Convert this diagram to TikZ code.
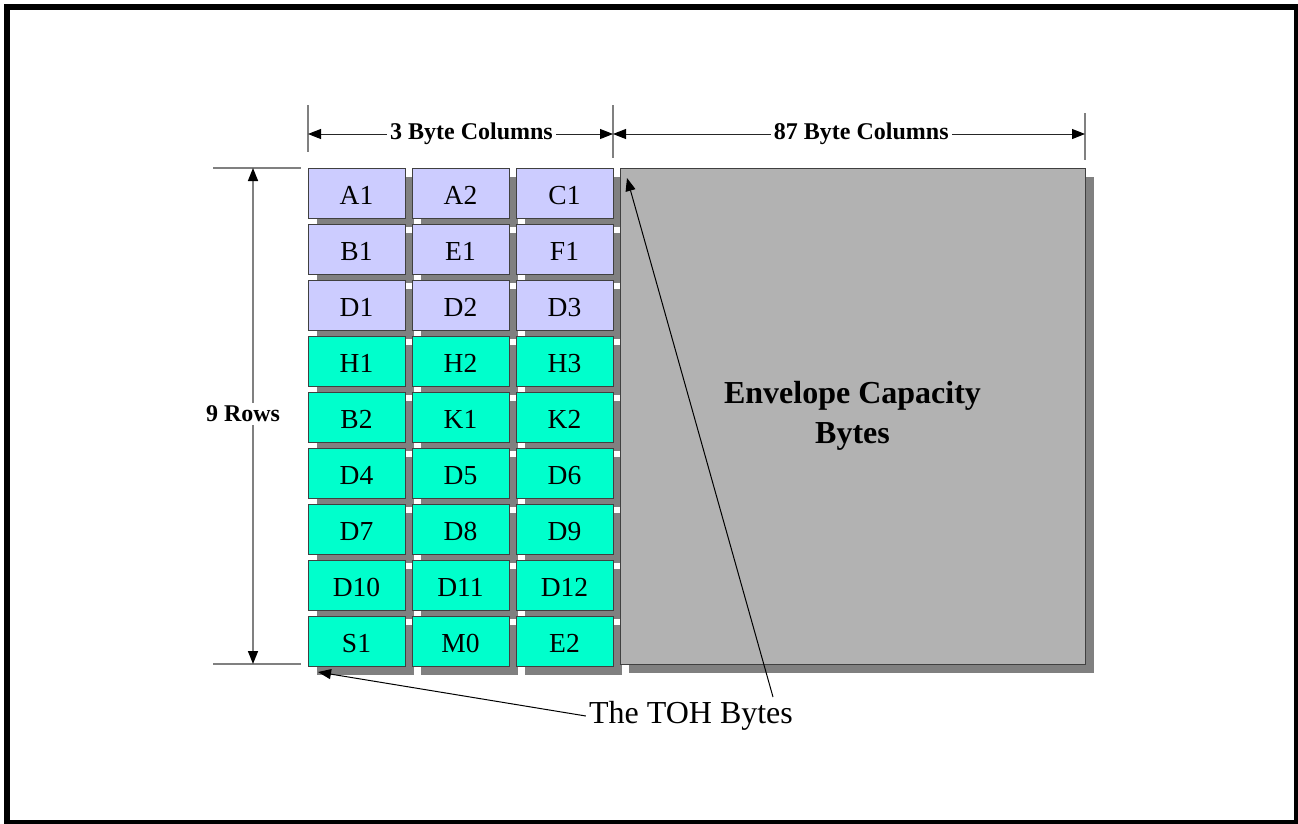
\documentclass[tikz,border=0pt]{standalone}
\usepackage{fontspec}
\setmainfont{Liberation Serif}
\usepackage{xcolor}
\usetikzlibrary{arrows.meta,shadows}

\definecolor{sohblue}{RGB}{204,204,255}
\definecolor{lohcyan}{RGB}{0,255,204}
\definecolor{envgray}{RGB}{178,178,178}
\definecolor{shadegray}{RGB}{128,128,128}

\begin{document}
\begin{tikzpicture}[
      x=1pt, y=-1pt,
      >={Triangle[length=13pt, width=10pt, color=black]},
      cell/.style={draw=black!75, line width=0.8pt, minimum width=97pt,
        minimum height=50pt, inner sep=0pt, text height=22pt, text depth=0pt,
        font=\fontsize{27.5}{30}\selectfont,
      drop shadow={shadow xshift=9pt, shadow yshift=-9pt, fill=shadegray, opacity=1}},
      soh/.style={cell, fill=sohblue},
      loh/.style={cell, fill=lohcyan},
      envbox/.style={draw=black!75, line width=0.8pt, fill=envgray, minimum width=465pt,
        minimum height=496pt, inner sep=0pt, align=center,
        font=\fontsize{32}{40}\selectfont\bfseries,
      drop shadow={shadow xshift=9pt, shadow yshift=-9pt, fill=shadegray, opacity=1}},
      dimlbl/.style={font=\fontsize{24}{26}\selectfont\bfseries, fill=white, inner sep=3pt},
      tick/.style={draw=shadegray, line width=1.5pt},
      dimh/.style={<->, draw=black!85, line width=1pt},
      dimv/.style={<->, draw=shadegray, line width=1.5pt},
    pointer/.style={->, draw=black, line width=1pt}]

    % ---- page and frame ----
    \clip (0,0) rectangle (1298,823);
    \draw[line width=6pt] (7,7) rectangle (1297,823);

    % ---- TOH byte cells, 9 rows x 3 columns ----
    \foreach \r/\lst/\kind in {1/{A1,A2,C1}/soh, 2/{B1,E1,F1}/soh, 3/{D1,D2,D3}/soh,
      4/{H1,H2,H3}/loh, 5/{B2,K1,K2}/loh, 6/{D4,D5,D6}/loh,
      7/{D7,D8,D9}/loh, 8/{D10,D11,D12}/loh, 9/{S1,M0,E2}/loh}
    \foreach \lbl [count=\c] in \lst
    \node[\kind] (b-\r-\c) at ({252.5+104*\c},{137+56*\r}) {\lbl};

    % ---- envelope capacity ----
    \node[envbox] (env) at (852.5,416) {Envelope Capacity\\Bytes};

    % ---- column dimensions ----
    \draw[tick] (308,105) -- (308,152);
    \draw[tick] (613,105) -- (613,158);
    \draw[tick] (1085,113) -- (1085,160);
    \coordinate (c0) at (308,134);
    \coordinate (c1) at (613,134);
    \coordinate (c2) at (1085,134);
    \draw[dimh] (c0) -- (c1) node[dimlbl, pos=0.536] {3 Byte Columns};
    \draw[dimh] (c1) -- (c2) node[dimlbl, pos=0.526] {87 Byte Columns};

    % ---- row dimension ----
    \draw[tick] (213,168) -- (301,168);
    \draw[tick] (213,664) -- (301,664);
    \coordinate (r0) at (253,168);
    \coordinate (r1) at (253,664);
    \draw[dimv] (r0) -- (r1);
    \node[dimlbl] (rows) at (243,414) {9 Rows};

    % ---- TOH callout ----
    \node[font=\fontsize{32}{36}\selectfont, inner sep=3pt] (toh) at (691,716) {The TOH Bytes};
    \coordinate (tohA) at (318,672);
    \coordinate (tohB) at (627,178);
    \coordinate (tohS) at (773,697);
    \draw[pointer] (toh.west) -- (tohA);
    \draw[pointer] (tohS) -- (tohB);
  \end{tikzpicture}
\end{document}
